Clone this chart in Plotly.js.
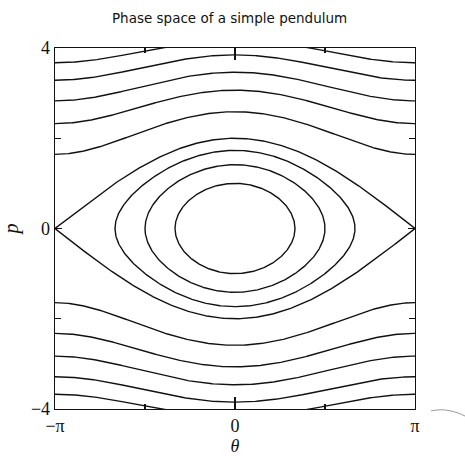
<!DOCTYPE html>
<html>
<head>
<meta charset="utf-8">
<script src="https://cdn.plot.ly/plotly-3.0.1.min.js"></script>
<style>html,body{margin:0;padding:0;background:#fff}</style>
</head>
<body>
<div id="chart" style="width:465px;height:456px"></div>
<script>
// Energy levels H = p^2/2 - cos(theta) of the trajectories
const librationEnergies = [-0.5, 0, 0.5];             // closed orbits (oscillation)
const separatrixEnergy = 1;                            // orbit through the unstable point
const rotationEnergies = [2.35, 3.7, 5.0, 6.4, 7.75];  // open orbits, drawn for p > 0 and p < 0

// Axis ticks
const thetaTickVals = [-Math.PI, 0, Math.PI];
const thetaTickText = ['\u2212\u03c0', '0', '\u03c0'];
const thetaMinorTicks = [-Math.PI / 2, Math.PI / 2];
const pTickVals = [-4, 0, 4];
const pTickText = ['\u22124', '0', '4'];
const pMinorTicks = [-2, 2];

const LINE = {color: '#111', width: 1.4};

function momentum(E, th) {
  const v = 2 * (E + Math.cos(th));
  return v > 0 ? Math.sqrt(v) : 0;
}

// Closed orbit: sweep a phase angle so the turning points are sampled densely
function closedOrbit(E, n) {
  const amp = E >= 1 ? Math.PI : Math.acos(-E);
  const x = [], y = [];
  for (let i = 0; i <= n; i++) {
    const phi = 2 * Math.PI * i / n;
    const th = -amp * Math.cos(phi);
    const s = Math.sin(phi) >= 0 ? 1 : -1;
    x.push(th);
    y.push(s * momentum(E, th));
  }
  return {x, y};
}

// Open orbit: upper and lower branches across the full angle range
function openOrbit(E, n) {
  const x = [], y = [];
  for (const s of [1, -1]) {
    for (let i = 0; i <= n; i++) {
      const th = -Math.PI + 2 * Math.PI * i / n;
      x.push(th);
      y.push(s * momentum(E, th));
    }
    x.push(null); y.push(null);
  }
  return {x, y};
}

const traces = [];
for (const E of librationEnergies.concat([separatrixEnergy])) {
  const o = closedOrbit(E, 600);
  traces.push({type: 'scatter', mode: 'lines', x: o.x, y: o.y, line: LINE, hoverinfo: 'skip'});
}
for (const E of rotationEnergies) {
  const o = openOrbit(E, 300);
  traces.push({type: 'scatter', mode: 'lines', x: o.x, y: o.y, line: LINE, hoverinfo: 'skip'});
}

const serif = 'Liberation Serif, Times New Roman, serif';

const layout = {
  width: 465,
  height: 456,
  margin: {l: 55, r: 50, t: 48, b: 47},
  paper_bgcolor: '#fff',
  plot_bgcolor: '#fff',
  showlegend: false,
  title: {
    text: 'Phase space of a simple pendulum',
    font: {family: 'DejaVu Sans, sans-serif', size: 13.5, color: '#111'},
    xref: 'paper', x: 0.485, xanchor: 'center',
    yref: 'container', y: 0.961, yanchor: 'middle'
  },
  xaxis: {
    range: [-Math.PI, Math.PI],
    tickmode: 'array', tickvals: thetaTickVals, ticktext: thetaTickText,
    ticks: 'inside', ticklen: 12, tickwidth: 1.3, tickcolor: '#111',
    minor: {tickmode: 'array', tickvals: thetaMinorTicks, ticks: 'inside', ticklen: 5, tickwidth: 1.2, tickcolor: '#111', showgrid: false},
    showline: true, mirror: 'ticks', linecolor: '#111', linewidth: 1.3,
    showgrid: false, zeroline: false, fixedrange: true,
    tickfont: {family: serif, size: 18, color: '#111'},
    title: {text: '<i>\u03b8</i>', font: {family: serif, size: 18, color: '#111'}, standoff: 9}
  },
  yaxis: {
    range: [-4, 4],
    tickmode: 'array', tickvals: pTickVals, ticktext: pTickText,
    ticks: 'inside', ticklen: 7, tickwidth: 1.3, tickcolor: '#111',
    minor: {tickmode: 'array', tickvals: pMinorTicks, ticks: 'inside', ticklen: 6, tickwidth: 1.2, tickcolor: '#111', showgrid: false},
    showline: true, mirror: 'ticks', linecolor: '#111', linewidth: 1.3,
    showgrid: false, zeroline: false, fixedrange: true,
    tickfont: {family: serif, size: 18, color: '#111'},
    title: {text: '<i>p</i>', font: {family: serif, size: 20, color: '#111'}, standoff: 10}
  },
  shapes: [{
    type: 'path', xref: 'paper', yref: 'paper',
    path: 'M 1.045 -0.005 C 1.08 0.002, 1.11 -0.005, 1.14 -0.02',
    line: {color: '#999', width: 1}
  }]
};

Plotly.newPlot('chart', traces, layout, {staticPlot: true, displayModeBar: false});
</script>
</body>
</html>
